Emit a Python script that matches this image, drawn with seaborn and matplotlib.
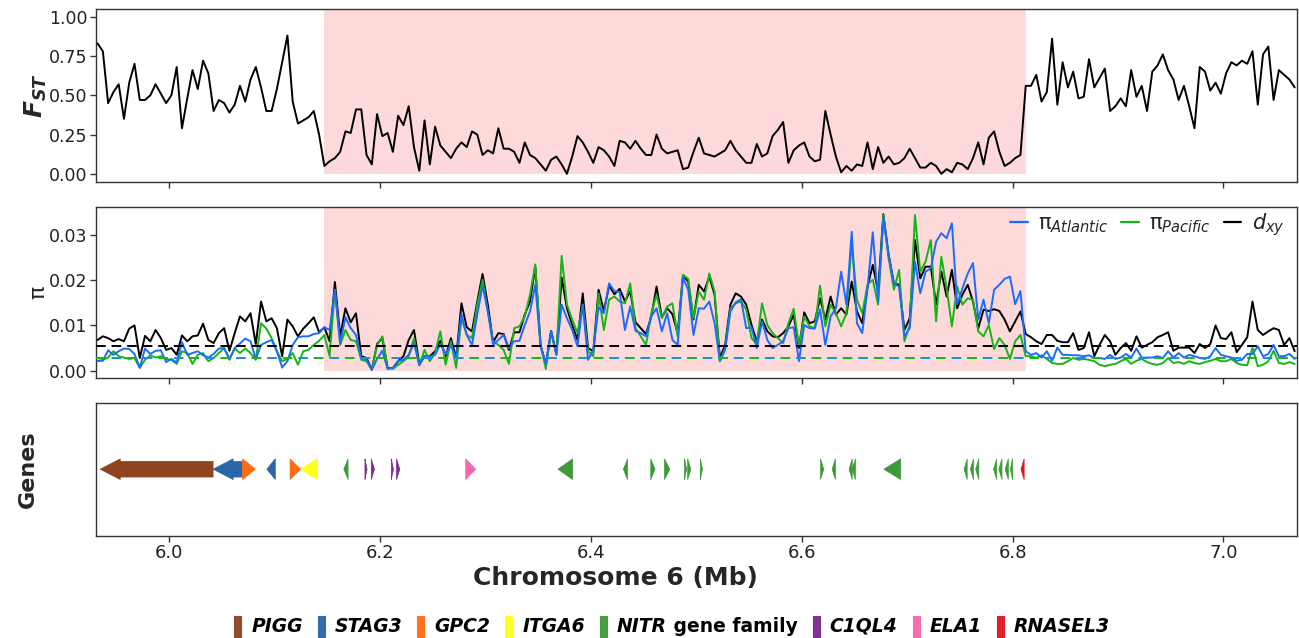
import numpy as np
import pandas as pd
import matplotlib
matplotlib.use("Agg")
import matplotlib.pyplot as plt
import seaborn as sns
from matplotlib.lines import Line2D
from matplotlib.patches import Rectangle, Polygon

# ---------------- data ----------------
window_start = 5.9325   # Mb, first window midpoint
window_step = 0.005     # Mb, window spacing

fst = [0.83,0.78,0.45,0.52,0.57,0.35,0.58,0.70,0.47,0.47,0.50,0.57,0.51,0.45,0.50,0.68,0.29,0.48,0.66,0.54,
       0.72,0.64,0.40,0.47,0.45,0.39,0.44,0.56,0.46,0.60,0.68,0.55,0.40,0.40,0.54,0.71,0.88,0.46,0.32,0.34,
       0.36,0.40,0.25,0.05,
       0.08,0.10,0.14,0.27,0.26,0.41,0.41,0.12,0.06,0.38,0.24,0.26,0.14,0.37,0.31,0.43,0.17,0.02,0.34,0.06,
       0.30,0.18,0.14,0.10,0.16,0.20,0.17,0.27,0.25,0.12,0.15,0.13,0.29,0.16,0.16,0.14,0.07,0.20,0.12,0.10,
       0.06,0.02,0.09,0.11,0.06,0.00,0.11,0.24,0.20,0.14,0.07,0.17,0.15,0.11,0.05,0.21,0.20,0.16,0.21,0.16,
       0.12,
       0.12,0.25,0.16,0.13,0.14,0.15,0.03,0.04,0.14,0.23,0.13,0.12,0.11,0.13,0.15,0.21,0.15,0.11,0.07,0.07,
       0.19,0.11,0.13,0.24,0.28,0.33,0.07,0.15,0.18,0.20,0.11,0.08,0.09,0.40,0.25,0.11,0.01,0.05,0.02,0.06,
       0.05,0.20,0.03,0.17,0.07,0.11,0.06,0.07,0.10,0.16,0.10,0.04,0.04,0.07,0.05,0.00,0.03,0.01,0.07,0.06,
       0.03,0.10,0.20,0.06,0.23,0.27,0.14,0.05,0.07,0.10,0.12,
       0.56,0.56,0.63,0.46,0.52,0.86,0.44,0.71,0.55,0.65,0.48,0.49,0.73,0.55,0.61,0.67,0.40,0.43,0.48,0.43,
       0.66,0.49,0.56,0.40,0.65,0.69,0.76,0.66,0.60,0.47,0.56,0.43,0.29,0.68,0.65,0.53,0.58,0.51,0.64,0.71,
       0.69,0.72,0.70,0.78,0.44,0.76,0.81,0.47,0.66,0.63,0.60,0.55]

dxy = [.0068,.0076,.0072,.0065,.0070,.0065,.0093,.0100,.0028,.0077,.0065,.0090,.0072,.0046,.0050,.0035,.0078,.0065,.0076,.0078,
       .0104,.0068,.0061,.0083,.0094,.0044,.0083,.0120,.0109,.0127,.0059,.0153,.0109,.0116,.0094,.0032,.0113,.0098,.0076,.0093,
       .0105,.0118,.0085,.0096,.0065,.0196,.0076,.0138,.0107,.0127,.0032,.0028,.0002,.0059,.0072,.0006,.0006,.0021,
       .0032,.0068,.0090,.0015,.0032,.0032,.0043,.0066,.0032,.0072,.0028,.0149,.0096,.0087,.0153,.0214,.0146,.0063,.0083,.0081,
       .0046,.0085,.0085,.0124,.0153,.0230,.0057,.0013,.0088,.0037,.0206,.0138,.0101,.0068,.0171,.0050,.0043,.0179,.0132,.0188,
       .0169,.0181,.0153,.0176,.0107,.0094,.0081,.0120,.0186,.0118,.0138,.0125,.0083,.0210,.0197,.0113,.0190,.0175,
       .0208,.0168,.0028,.0057,.0146,.0171,.0164,.0146,.0101,.0065,.0113,.0087,.0076,.0074,.0083,.0098,.0124,.0050,.0129,.0105,
       .0109,.0160,.0113,.0164,.0124,.0138,.0124,.0197,.0131,.0105,.0186,.0234,.0175,.0346,.0256,.0193,.0190,.0090,.0116,.0289,
       .0204,.0230,.0230,.0146,.0219,.0164,.0223,.0138,.0168,.0190,.0153,.0094,.0135,.0132,.0136,
       .0132,.0113,.0087,.0109,.0131,.0081,.0074,.0065,.0059,.0079,.0079,.0066,.0063,.0063,.0083,.0046,.0050,.0085,.0032,.0057,
       .0079,.0065,.0035,.0050,.0061,.0044,.0076,.0051,.0057,.0063,.0074,.0079,.0085,.0044,.0051,.0051,.0051,.0039,.0059,.0050,
       .0059,.0100,.0072,.0070,.0085,.0041,.0057,.0074,.0153,.0090,.0079,.0087,.0094,.0090,.0057,.0072,.0043]

pi_atlantic = [.0022,.0022,.0045,.0035,.0043,.0049,.0048,.0037,.0007,.0049,.0037,.0044,.0045,.0019,.0026,.0018,.0063,.0035,.0039,.0043,
       .0034,.0029,.0037,.0049,.0050,.0026,.0050,.0060,.0071,.0065,.0026,.0057,.0063,.0068,.0043,.0007,.0021,.0057,.0074,.0076,
       .0076,.0081,.0083,.0096,.0090,.0179,.0061,.0118,.0094,.0079,.0028,.0024,.0002,.0026,.0044,.0004,.0006,.0021,
       .0024,.0035,.0061,.0012,.0032,.0032,.0035,.0059,.0037,.0057,.0028,.0124,.0079,.0057,.0124,.0188,.0131,.0057,.0068,.0079,
       .0050,.0065,.0066,.0101,.0131,.0190,.0054,.0015,.0087,.0035,.0146,.0116,.0090,.0054,.0146,.0024,.0046,.0140,.0127,.0193,
       .0176,.0174,.0090,.0142,.0088,.0083,.0076,.0120,.0138,.0087,.0127,.0068,.0057,.0206,.0179,.0079,.0138,.0137,
       .0153,.0105,.0021,.0046,.0131,.0151,.0158,.0094,.0096,.0050,.0109,.0068,.0050,.0057,.0065,.0094,.0096,.0021,.0101,.0094,
       .0093,.0135,.0057,.0120,.0138,.0219,.0146,.0307,.0105,.0083,.0182,.0306,.0153,.0337,.0256,.0193,.0186,.0076,.0094,.0241,
       .0171,.0219,.0226,.0285,.0304,.0293,.0326,.0147,.0182,.0215,.0238,.0113,.0157,.0105,.0179,
       .0190,.0203,.0208,.0147,.0176,.0043,.0035,.0039,.0029,.0043,.0022,.0051,.0035,.0035,.0034,.0034,.0032,.0034,.0028,.0028,
       .0026,.0035,.0026,.0029,.0037,.0029,.0049,.0029,.0029,.0029,.0032,.0028,.0043,.0029,.0039,.0029,.0035,.0032,.0028,.0026,
       .0032,.0050,.0035,.0032,.0029,.0022,.0024,.0037,.0037,.0054,.0032,.0037,.0057,.0032,.0032,.0037,.0026]

pi_pacific = [.0021,.0024,.0029,.0043,.0032,.0029,.0026,.0028,.0006,.0024,.0034,.0029,.0032,.0026,.0024,.0015,.0043,.0039,.0015,.0035,
       .0039,.0021,.0028,.0039,.0050,.0024,.0049,.0039,.0049,.0039,.0024,.0105,.0093,.0072,.0043,.0021,.0026,.0039,.0013,.0043,
       .0046,.0057,.0066,.0079,.0032,.0179,.0057,.0090,.0068,.0065,.0024,.0021,.0002,.0056,.0076,.0006,.0004,.0013,
       .0021,.0032,.0072,.0012,.0046,.0021,.0039,.0087,.0013,.0065,.0006,.0116,.0079,.0072,.0146,.0201,.0131,.0065,.0057,.0046,
       .0015,.0094,.0098,.0120,.0168,.0235,.0057,.0004,.0087,.0035,.0254,.0146,.0113,.0083,.0146,.0043,.0032,.0171,.0090,.0157,
       .0164,.0153,.0149,.0193,.0094,.0076,.0057,.0127,.0168,.0116,.0142,.0149,.0076,.0212,.0203,.0116,.0175,.0157,
       .0215,.0175,.0021,.0050,.0138,.0149,.0153,.0135,.0072,.0059,.0149,.0101,.0083,.0072,.0061,.0105,.0137,.0054,.0120,.0098,
       .0094,.0188,.0098,.0146,.0127,.0098,.0127,.0282,.0157,.0127,.0190,.0201,.0146,.0344,.0249,.0179,.0223,.0065,.0101,.0344,
       .0219,.0241,.0289,.0109,.0252,.0182,.0098,.0186,.0146,.0160,.0157,.0087,.0076,.0101,.0048,
       .0072,.0057,.0026,.0065,.0079,.0032,.0032,.0028,.0034,.0026,.0017,.0015,.0015,.0021,.0028,.0024,.0026,.0024,.0021,.0013,
       .0010,.0013,.0015,.0021,.0026,.0015,.0022,.0026,.0019,.0015,.0013,.0017,.0028,.0017,.0019,.0015,.0021,.0017,.0015,.0019,
       .0022,.0026,.0021,.0021,.0026,.0017,.0013,.0012,.0051,.0010,.0013,.0021,.0044,.0017,.0015,.0019,.0015]

mean_dxy = 0.0054
mean_pi_atlantic = 0.0027
mean_pi_pacific = 0.0028
inversion_start, inversion_end = 6.1475, 6.8128

gene_start = [5.935, 6.042, 6.070, 6.093, 6.115, 6.125, 6.166, 6.186, 6.192, 6.211, 6.216, 6.2815,
              6.369, 6.431, 6.457, 6.470, 6.489, 6.492, 6.504, 6.618, 6.629, 6.645, 6.648, 6.678,
              6.754, 6.760, 6.765, 6.782, 6.787, 6.793, 6.798, 6.808]
gene_end = [6.042, 6.070, 6.082, 6.101, 6.125, 6.141, 6.170, 6.188, 6.195, 6.213, 6.219, 6.291,
            6.383, 6.435, 6.461, 6.475, 6.491, 6.495, 6.506, 6.621, 6.632, 6.648, 6.651, 6.694,
            6.757, 6.763, 6.768, 6.785, 6.790, 6.796, 6.800, 6.811]
gene_strand = [-1, -1, 1, -1, 1, -1, -1, 1, 1, 1, 1, 1,
               -1, -1, 1, 1, 1, 1, 1, 1, -1, -1, -1, -1,
               -1, -1, -1, -1, -1, -1, -1, -1]
gene_group = ["PIGG", "STAG3", "GPC2", "STAG3", "GPC2", "ITGA6", "NITR", "C1QL4", "C1QL4", "C1QL4", "C1QL4", "ELA1",
              "NITR", "NITR", "NITR", "NITR", "NITR", "NITR", "NITR", "NITR", "NITR", "NITR", "NITR", "NITR",
              "NITR", "NITR", "NITR", "NITR", "NITR", "NITR", "NITR", "RNASEL3"]
group_names = ["PIGG", "STAG3", "GPC2", "ITGA6", "NITR", "C1QL4", "ELA1", "RNASEL3"]
group_colors = ["#8E4421", "#2B66A9", "#FF6A13", "#FFFF1A", "#3D9A37", "#7A2B8C", "#F468AE", "#E1141E"]

x_ticks = [6.0, 6.2, 6.4, 6.6, 6.8, 7.0]
fst_ticks = [0.0, 0.25, 0.5, 0.75, 1.0]
pi_ticks = [0.0, 0.01, 0.02, 0.03]

assert len(fst) == len(dxy) == len(pi_atlantic) == len(pi_pacific)

pos = window_start + window_step * np.arange(len(fst))
df = pd.DataFrame({"pos": pos, "fst": fst, "dxy": dxy,
                   "pi_atl": pi_atlantic, "pi_pac": pi_pacific})

# ---------------- style ----------------
sns.set_theme(style="white")
plt.rcParams["font.family"] = ["DejaVu Sans"]
plt.rcParams["mathtext.fontset"] = "dejavusans"

W, H = 1299, 638
fig = plt.figure(figsize=(W / 100, H / 100), dpi=100)


def box(l, t, r, b):
    return [l / W, 1 - b / H, (r - l) / W, (b - t) / H]


ax1 = fig.add_axes(box(96, 9.3, 1297, 181.7))
ax2 = fig.add_axes(box(96, 206.7, 1297, 377.7))
ax3 = fig.add_axes(box(96, 402.7, 1297, 535.7))

XLIM = (5.931, 7.0697)
PINK = "#FDD9DA"
for ax in (ax1, ax2, ax3):
    ax.set_xlim(*XLIM)
    ax.set_xticks(x_ticks)
    for s in ax.spines.values():
        s.set_visible(True)
        s.set_color("#333333")
        s.set_linewidth(1.0)
    ax.tick_params(axis="both", which="both", direction="out", length=4, width=1,
                   color="#333333", labelsize=12.5, labelcolor="#222222", pad=2,
                   bottom=True, left=True)
    ax.grid(False)

# ---- top: FST ----
ax1.add_patch(Rectangle((inversion_start, 0), inversion_end - inversion_start, 5,
                        facecolor=PINK, edgecolor="none", zorder=0))
sns.lineplot(data=df, x="pos", y="fst", ax=ax1, color="black", linewidth=1.4,
             estimator=None, sort=False, zorder=3)
ax1.set_ylim(-0.05, 1.047)
ax1.set_yticks(fst_ticks)
ax1.set_yticklabels([f"{v:.2f}" for v in fst_ticks])
ax1.tick_params(labelbottom=False)
ax1.set_xlabel("")
ax1.set_ylabel(r"$\mathbfit{F}_{\mathbfit{ST}}$", fontsize=18, va="center")
ax1.yaxis.set_label_coords(-0.05, 0.5)

# ---- middle: pi / dxy ----
ax2.add_patch(Rectangle((inversion_start, 0), inversion_end - inversion_start, 1,
                        facecolor=PINK, edgecolor="none", zorder=0))
C_ATL, C_PAC, C_DXY = "#1C6BFF", "#17B417", "black"
sns.lineplot(data=df, x="pos", y="dxy", ax=ax2, color=C_DXY, linewidth=1.4,
             estimator=None, sort=False, zorder=3)
sns.lineplot(data=df, x="pos", y="pi_pac", ax=ax2, color=C_PAC, linewidth=1.4,
             estimator=None, sort=False, zorder=4)
sns.lineplot(data=df, x="pos", y="pi_atl", ax=ax2, color=C_ATL, linewidth=1.4,
             estimator=None, sort=False, zorder=5)
ax2.axhline(mean_dxy, color=C_DXY, linewidth=1.4, linestyle=(0, (5, 3)), zorder=6)
ax2.axhline(mean_pi_pacific, color=C_PAC, linewidth=1.4, linestyle=(0, (5, 11)), zorder=6)
ax2.axhline(mean_pi_atlantic, color="#1A8FD0", linewidth=1.4, linestyle=(8, (5, 11)), zorder=6)
ax2.set_ylim(-0.00155, 0.03626)
ax2.set_yticks(pi_ticks)
ax2.set_yticklabels([f"{v:.2f}" for v in pi_ticks])
ax2.tick_params(labelbottom=False)
ax2.set_xlabel("")
ax2.set_ylabel("π", fontsize=16, va="center")
ax2.yaxis.set_label_coords(-0.048, 0.5)
handles = [Line2D([], [], color=C_ATL, lw=1.6), Line2D([], [], color=C_PAC, lw=1.6),
           Line2D([], [], color=C_DXY, lw=1.6)]
labels = [r"π$_{\mathit{Atlantic}}$", r"π$_{\mathit{Pacific}}$", r"$d_{xy}$"]
ax2.legend(handles, labels, loc="upper right", bbox_to_anchor=(1.0, 1.045), ncol=3,
           frameon=False, fontsize=15, handlelength=0.85, handletextpad=0.5,
           columnspacing=0.6, borderaxespad=0.2)

# ---- bottom: genes ----
ax3.set_ylim(0, 1)
ax3.set_yticks([])
ax3.tick_params(left=False)
ax3.set_xticklabels([f"{v:.1f}" for v in x_ticks])
ax3.tick_params(axis="x", labelsize=13)
color_of = dict(zip(group_names, group_colors))
HEAD, HH, BH, Y0 = 0.019, 0.078, 0.059, 0.5
for s, e, d, g in zip(gene_start, gene_end, gene_strand, gene_group):
    hl = min(HEAD, e - s)
    if d > 0:
        b = e - hl
        pts = [(s, Y0 - BH), (b, Y0 - BH), (b, Y0 - HH), (e, Y0), (b, Y0 + HH), (b, Y0 + BH), (s, Y0 + BH)]
    else:
        b = s + hl
        pts = [(e, Y0 - BH), (b, Y0 - BH), (b, Y0 - HH), (s, Y0), (b, Y0 + HH), (b, Y0 + BH), (e, Y0 + BH)]
    ax3.add_patch(Polygon(pts, closed=True, facecolor=color_of[g], edgecolor=color_of[g],
                          linewidth=0.5, zorder=3))
ax3.set_ylabel("Genes", fontsize=16, fontweight="bold", va="center")
ax3.yaxis.set_label_coords(-0.057, 0.5)
ax3.set_xlabel("Chromosome 6 (Mb)", fontsize=18, fontweight="bold", va="center")
ax3.xaxis.set_label_coords((615 - 96) / 1201.0, -(578 - 535.7) / 133.0)

# ---- gene legend (bottom row) ----
renderer = fig.canvas.get_renderer()
y_c = 626
artists = []
x = 0.0
KEY_W, KEY_H, PAD, GAP = 7, 21, 10, 15
for name, col in zip(group_names, group_colors):
    rect = Rectangle((x, H - y_c - KEY_H / 2), KEY_W, KEY_H, transform=None,
                     facecolor=col, edgecolor=col, linewidth=0.8, alpha=0.95)
    fig.patches.append(rect)
    artists.append(("rect", rect, x))
    x += KEY_W + PAD
    t = fig.text(x / W, 1 - y_c / H, name, ha="left", va="center", fontsize=13.5,
                 fontweight="bold", fontstyle="italic", color="black")
    artists.append(("text", t, x))
    x += t.get_window_extent(renderer).width
    if name == "NITR":
        t2 = fig.text(x / W, 1 - y_c / H, " gene family", ha="left", va="center",
                      fontsize=13.5, fontweight="bold", color="black")
        artists.append(("text", t2, x))
        x += t2.get_window_extent(renderer).width
    x += GAP
total = x - GAP
x0 = 672 - total / 2
for kind, a, xx in artists:
    if kind == "rect":
        a.set_x(x0 + xx)
    else:
        a.set_x((x0 + xx) / W)

fig.savefig("out.png", dpi=100)
